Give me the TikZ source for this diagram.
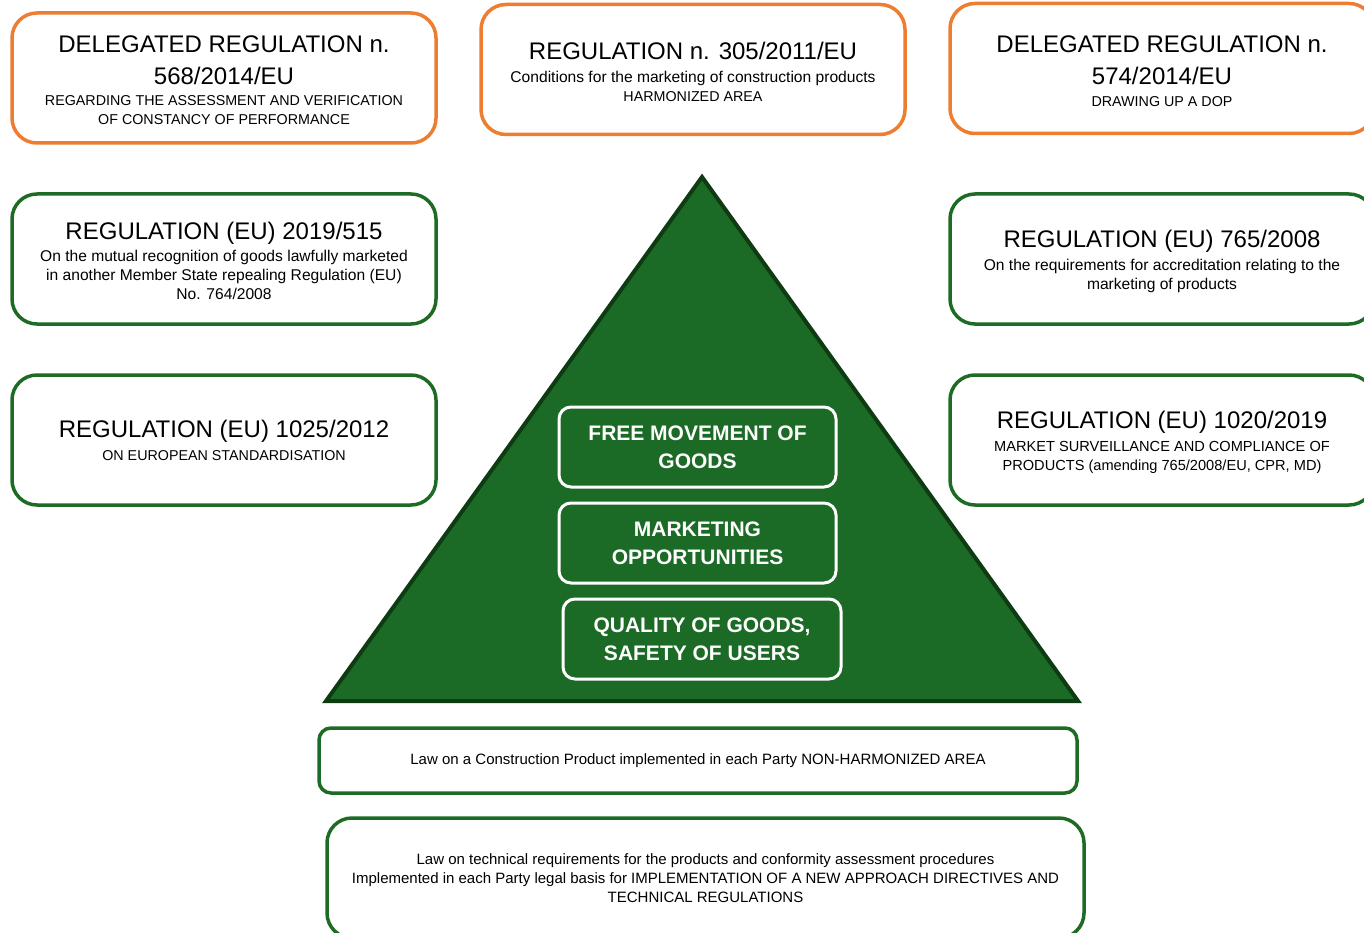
\documentclass[tikz,border=0pt]{standalone}
\usepackage{fontspec}
\setmainfont{Liberation Sans}
\usepackage{tikz}
\usetikzlibrary{positioning}
\definecolor{regorange}{HTML}{ED7D31}
\definecolor{reggreen}{HTML}{1E6B26}
\definecolor{pyrgreen}{HTML}{1B6B27}
\definecolor{pyrdark}{HTML}{0E3B12}
\newcommand{\bigtxt}{\fontsize{24}{31}\selectfont}
\newcommand{\regtitle}{\bigtxt\rule{0pt}{22pt}}
\newcommand{\smalltxt}{\fontsize{14.3}{19}\selectfont}
\newcommand{\lowtxt}{\fontsize{15.6}{19}\selectfont}

\begin{document}
\begin{tikzpicture}[x=1pt,y=-1pt,node distance=181pt,
    regbox/.style={draw,rounded corners=25pt,line width=3.5pt,minimum width=424pt,
                   minimum height=130pt,align=center,font=\smalltxt,inner sep=0pt},
    orangebox/.style={regbox,draw=regorange},
    greenbox/.style={regbox,draw=reggreen},
    goalbox/.style={draw=white,line width=3pt,rounded corners=12pt,minimum width=277pt,
                    minimum height=80pt,align=center,text=white,inner sep=0pt,
                    font=\fontsize{21}{28}\selectfont\bfseries},
    lawbox/.style={draw=reggreen,line width=3.5pt,align=center,inner sep=0pt,
                   font=\fontsize{15}{19}\selectfont}]

    \useasboundingbox (0,0) rectangle (1364,933);

    % pyramid
    \coordinate (apex)  at (702,177);
    \coordinate (baseL) at (326,701);
    \coordinate (baseR) at (1078,701);
    \draw[fill=pyrgreen,draw=pyrdark,line width=4pt] (apex) -- (baseR) -- (baseL) -- cycle;

    % left column
    \node[orangebox] (568) at (224,78)
        {{\regtitle DELEGATED REGULATION n.}\\[13pt]{\bigtxt 568/2014/EU}\\[2pt]
         REGARDING THE ASSESSMENT AND VERIFICATION\\OF CONSTANCY OF PERFORMANCE};
    \node[greenbox]  (515) [below of=568,font=\lowtxt]
        {{\regtitle REGULATION (EU) 2019/515}\\[3pt]
         On the mutual recognition of goods lawfully marketed\\
         in another Member State repealing Regulation (EU)\\No. 764/2008};
    \node[greenbox]  (1025) [below of=515]
        {{\bigtxt REGULATION (EU) 1025/2012}\\[4pt]ON EUROPEAN STANDARDISATION};

    % top middle and right column
    \node[orangebox] (305) at (693,69.5)
        {{\regtitle REGULATION n. 305/2011/EU}\\[4pt]
         {\lowtxt Conditions for the marketing of construction products}\\HARMONIZED AREA};
    \node[orangebox] (574) at (1162,68.5)
        {{\regtitle DELEGATED REGULATION n.}\\[13pt]{\bigtxt 574/2014/EU}\\[3pt]DRAWING UP A DOP};
    \node[greenbox]  (765) [right of=515,node distance=938pt,font=\lowtxt]
        {{\regtitle REGULATION (EU) 765/2008}\\[4pt]
         On the requirements for accreditation relating to the\\marketing of products};
    \node[greenbox]  (1020) [right of=1025,node distance=938pt,font=\fontsize{14.6}{19}\selectfont]
        {{\regtitle REGULATION (EU) 1020/2019}\\[4pt]
         MARKET SURVEILLANCE AND COMPLIANCE OF\\
         PRODUCTS (amending 765/2008/EU, CPR, MD)};

    % inside the pyramid
    \node[goalbox] (free)    at (697.5,447)               {FREE MOVEMENT OF\\GOODS};
    \node[goalbox] (market)  [below of=free,node distance=96pt]   {MARKETING\\OPPORTUNITIES};
    \node[goalbox] (quality) [below of=market,node distance=96pt,xshift=4.5pt,minimum width=278pt]
        {QUALITY OF GOODS,\\SAFETY OF USERS};

    % national laws
    \node[lawbox,rounded corners=12pt,minimum width=758pt,minimum height=65pt] (law1) at (698,760.5)
        {Law on a Construction Product implemented in each Party NON-HARMONIZED AREA};
    \node[lawbox,rounded corners=25pt,minimum width=757pt,minimum height=120pt] (law2) at (705.5,878)
        {Law on technical requirements for the products and conformity assessment procedures\\
         Implemented in each Party legal basis for IMPLEMENTATION OF A NEW APPROACH DIRECTIVES AND\\
         TECHNICAL REGULATIONS};
\end{tikzpicture}
\end{document}
